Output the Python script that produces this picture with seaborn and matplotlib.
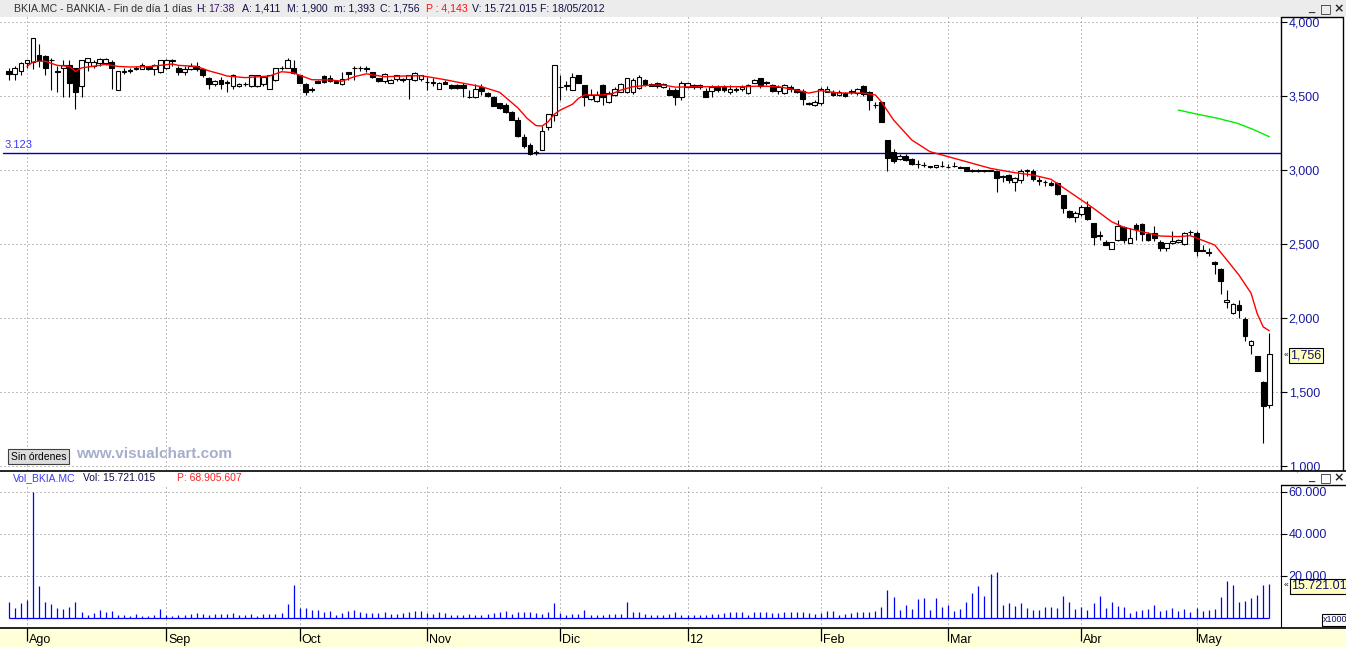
import numpy as np
import pandas as pd
import matplotlib
matplotlib.use('Agg')
import matplotlib.pyplot as plt
import seaborn as sns
from matplotlib.patches import Rectangle
from matplotlib.lines import Line2D

# daily candles BKIA.MC (27/07/2011 - 18/05/2012), one entry per session
opens = [3.67, 3.65, 3.67, 3.72, 3.73, 3.78, 3.77, 3.745, 3.67, 3.69,
         3.71, 3.69, 3.57, 3.73, 3.70, 3.72, 3.72, 3.73, 3.54, 3.665,
         3.67, 3.683, 3.685, 3.70, 3.685, 3.66, 3.69, 3.742, 3.69, 3.66,
         3.68, 3.70, 3.68, 3.62, 3.58, 3.61, 3.592, 3.57, 3.57, 3.582,
         3.57, 3.57, 3.58, 3.55, 3.61, 3.692, 3.69, 3.69, 3.64, 3.58,
         3.55, 3.60, 3.635, 3.62, 3.60, 3.58, 3.66, 3.692, 3.692, 3.688,
         3.66, 3.62, 3.60, 3.59, 3.615, 3.612, 3.615, 3.61, 3.615, 3.597,
         3.595, 3.55, 3.597, 3.574, 3.574, 3.574, 3.49, 3.49, 3.563, 3.518,
         3.49, 3.45, 3.44, 3.39, 3.34, 3.225, 3.17, 3.12, 3.137, 3.29,
         3.37, 3.562, 3.565, 3.54, 3.64, 3.574, 3.48, 3.467, 3.574, 3.46,
         3.507, 3.53, 3.53, 3.53, 3.556, 3.608, 3.58, 3.586, 3.56, 3.54,
         3.54, 3.495, 3.563, 3.574, 3.574, 3.536, 3.536, 3.56, 3.57, 3.53,
         3.55, 3.545, 3.52, 3.59, 3.62, 3.592, 3.574, 3.536, 3.52, 3.56,
         3.545, 3.536, 3.452, 3.44, 3.45, 3.53, 3.53, 3.507, 3.518, 3.532,
         3.52, 3.567, 3.53, 3.442, 3.46, 3.20, 3.124, 3.072, 3.095, 3.076,
         3.042, 3.036, 3.027, 3.018, 3.029, 3.022, 3.029, 3.02, 3.018, 3.0,
         3.0, 2.998, 2.997, 2.993, 2.957, 2.966, 2.92, 2.932, 2.993, 2.995,
         2.932, 2.922, 2.91, 2.915, 2.83, 2.72, 2.68, 2.70, 2.75, 2.644,
         2.558, 2.516, 2.464, 2.527, 2.617, 2.51, 2.63, 2.635, 2.567, 2.576,
         2.516, 2.47, 2.505, 2.516, 2.50, 2.582, 2.576, 2.457, 2.446, 2.376,
         2.33, 2.106, 2.036, 2.09, 1.99, 1.818, 1.74, 1.57, 1.411]
highs = [3.69, 3.70, 3.73, 3.745, 3.89, 3.85, 3.78, 3.76, 3.70, 3.74,
         3.74, 3.69, 3.74, 3.76, 3.74, 3.76, 3.755, 3.74, 3.67, 3.69,
         3.69, 3.70, 3.72, 3.705, 3.715, 3.745, 3.75, 3.75, 3.70, 3.70,
         3.72, 3.73, 3.69, 3.63, 3.61, 3.63, 3.61, 3.65, 3.59, 3.595,
         3.645, 3.645, 3.635, 3.645, 3.69, 3.70, 3.755, 3.74, 3.645, 3.585,
         3.56, 3.61, 3.64, 3.645, 3.605, 3.66, 3.665, 3.70, 3.705, 3.70,
         3.665, 3.625, 3.655, 3.615, 3.645, 3.625, 3.645, 3.665, 3.645, 3.63,
         3.62, 3.595, 3.61, 3.58, 3.58, 3.585, 3.54, 3.58, 3.58, 3.525,
         3.50, 3.455, 3.455, 3.40, 3.36, 3.24, 3.18, 3.135, 3.30, 3.38,
         3.71, 3.64, 3.60, 3.655, 3.645, 3.575, 3.545, 3.535, 3.58, 3.535,
         3.56, 3.59, 3.625, 3.62, 3.64, 3.615, 3.59, 3.595, 3.59, 3.56,
         3.555, 3.60, 3.59, 3.58, 3.58, 3.555, 3.575, 3.575, 3.575, 3.575,
         3.56, 3.575, 3.58, 3.615, 3.625, 3.60, 3.58, 3.575, 3.58, 3.575,
         3.55, 3.55, 3.46, 3.47, 3.56, 3.565, 3.54, 3.54, 3.53, 3.545,
         3.555, 3.575, 3.535, 3.46, 3.465, 3.20, 3.14, 3.105, 3.11, 3.08,
         3.065, 3.055, 3.03, 3.036, 3.06, 3.04, 3.055, 3.03, 3.022, 3.005,
         3.005, 3.0, 3.0, 2.995, 2.965, 2.97, 2.95, 3.01, 3.005, 3.005,
         2.95, 2.935, 2.925, 2.92, 2.83, 2.73, 2.72, 2.765, 2.79, 2.645,
         2.585, 2.53, 2.516, 2.66, 2.625, 2.605, 2.64, 2.64, 2.583, 2.62,
         2.53, 2.51, 2.59, 2.535, 2.58, 2.595, 2.585, 2.49, 2.47, 2.385,
         2.34, 2.186, 2.10, 2.12, 2.005, 1.85, 1.745, 1.575, 1.900]
lows = [3.61, 3.61, 3.64, 3.69, 3.685, 3.696, 3.64, 3.54, 3.53, 3.49,
        3.49, 3.41, 3.49, 3.67, 3.69, 3.70, 3.71, 3.55, 3.54, 3.65,
        3.655, 3.675, 3.68, 3.675, 3.645, 3.655, 3.685, 3.70, 3.64, 3.64,
        3.675, 3.67, 3.63, 3.55, 3.57, 3.55, 3.53, 3.55, 3.56, 3.565,
        3.56, 3.56, 3.57, 3.55, 3.60, 3.675, 3.69, 3.65, 3.585, 3.51,
        3.53, 3.585, 3.59, 3.595, 3.585, 3.575, 3.605, 3.605, 3.67, 3.665,
        3.625, 3.595, 3.59, 3.585, 3.60, 3.595, 3.48, 3.60, 3.60, 3.54,
        3.57, 3.545, 3.58, 3.55, 3.55, 3.49, 3.488, 3.488, 3.51, 3.495,
        3.43, 3.415, 3.385, 3.335, 3.22, 3.15, 3.10, 3.10, 3.137, 3.27,
        3.33, 3.47, 3.54, 3.54, 3.59, 3.435, 3.47, 3.46, 3.44, 3.455,
        3.50, 3.525, 3.52, 3.515, 3.55, 3.57, 3.565, 3.555, 3.555, 3.505,
        3.44, 3.475, 3.555, 3.55, 3.545, 3.49, 3.495, 3.53, 3.53, 3.515,
        3.53, 3.535, 3.515, 3.585, 3.555, 3.575, 3.53, 3.515, 3.515, 3.525,
        3.52, 3.44, 3.44, 3.435, 3.44, 3.525, 3.50, 3.50, 3.49, 3.515,
        3.51, 3.50, 3.405, 3.42, 3.326, 2.995, 3.05, 3.065, 3.06, 3.035,
        3.015, 3.02, 3.015, 3.015, 3.02, 3.015, 3.02, 3.012, 2.993, 2.985,
        2.985, 2.985, 2.99, 2.85, 2.92, 2.91, 2.86, 2.91, 2.96, 2.925,
        2.90, 2.89, 2.89, 2.83, 2.71, 2.675, 2.65, 2.69, 2.66, 2.49,
        2.53, 2.49, 2.464, 2.52, 2.51, 2.51, 2.53, 2.52, 2.52, 2.52,
        2.455, 2.455, 2.50, 2.51, 2.495, 2.56, 2.42, 2.45, 2.42, 2.30,
        2.16, 2.07, 2.03, 2.0, 1.845, 1.76, 1.64, 1.157, 1.393]
closes = [3.65, 3.69, 3.72, 3.74, 3.89, 3.74, 3.69, 3.74, 3.66, 3.71,
          3.59, 3.53, 3.74, 3.76, 3.73, 3.75, 3.75, 3.69, 3.67, 3.67,
          3.672, 3.687, 3.71, 3.68, 3.71, 3.74, 3.745, 3.738, 3.66, 3.68,
          3.70, 3.68, 3.64, 3.58, 3.60, 3.58, 3.588, 3.64, 3.58, 3.578,
          3.64, 3.64, 3.63, 3.64, 3.69, 3.688, 3.74, 3.655, 3.59, 3.53,
          3.54, 3.59, 3.595, 3.60, 3.59, 3.615, 3.65, 3.688, 3.688, 3.684,
          3.63, 3.60, 3.65, 3.61, 3.64, 3.608, 3.64, 3.655, 3.64, 3.593,
          3.585, 3.59, 3.583, 3.552, 3.552, 3.552, 3.495, 3.55, 3.536, 3.50,
          3.435, 3.42, 3.39, 3.34, 3.23, 3.16, 3.106, 3.115, 3.265, 3.38,
          3.71, 3.558, 3.575, 3.63, 3.59, 3.49, 3.51, 3.507, 3.495, 3.52,
          3.55, 3.58, 3.62, 3.61, 3.63, 3.58, 3.57, 3.57, 3.58, 3.51,
          3.49, 3.586, 3.586, 3.563, 3.56, 3.495, 3.56, 3.54, 3.54, 3.55,
          3.54, 3.563, 3.574, 3.608, 3.567, 3.588, 3.536, 3.56, 3.574, 3.545,
          3.53, 3.478, 3.448, 3.46, 3.55, 3.55, 3.507, 3.53, 3.50, 3.528,
          3.545, 3.513, 3.473, 3.438, 3.326, 3.083, 3.063, 3.095, 3.068, 3.04,
          3.038, 3.032, 3.018, 3.034, 3.025, 3.018, 3.025, 3.016, 2.995, 2.99,
          2.99, 2.99, 2.993, 2.944, 2.953, 2.93, 2.944, 2.995, 2.997, 2.937,
          2.928, 2.918, 2.90, 2.84, 2.74, 2.685, 2.71, 2.75, 2.667, 2.55,
          2.554, 2.495, 2.516, 2.62, 2.53, 2.54, 2.60, 2.57, 2.53, 2.54,
          2.47, 2.51, 2.52, 2.53, 2.576, 2.578, 2.45, 2.453, 2.442, 2.363,
          2.25, 2.12, 2.093, 2.054, 1.878, 1.847, 1.642, 1.407, 1.756]

# volume in thousands of shares
volumes = [7.4, 4.6, 6.8, 8.2, 59.7, 15.0, 7.3, 6.3, 4.4, 4.1,
           5.1, 7.3, 2.5, 1.1, 2.1, 3.5, 2.7, 3.0, 1.4, 1.1,
           0.8, 1.6, 0.6, 0.8, 1.3, 4.1, 1.3, 0.9, 1.3, 1.4,
           1.6, 2.1, 1.6, 1.3, 1.6, 1.6, 1.6, 2.1, 1.3, 1.3,
           1.6, 0.9, 1.6, 1.6, 1.6, 2.1, 6.3, 15.3, 4.4, 4.4,
           3.5, 3.5, 2.7, 3.0, 1.4, 2.1, 3.0, 3.5, 2.5, 2.1,
           2.1, 2.1, 2.5, 1.6, 1.6, 2.1, 2.4, 3.3, 2.9, 2.1,
           1.7, 2.4, 2.1, 1.3, 1.0, 1.3, 1.7, 1.3, 1.0, 1.6,
           2.1, 2.5, 3.3, 1.6, 2.5, 2.4, 2.4, 2.1, 1.6, 2.4,
           6.8, 2.1, 1.3, 1.6, 1.6, 3.7, 1.0, 1.3, 1.3, 1.7,
           1.7, 1.7, 7.6, 2.5, 2.4, 1.6, 1.0, 1.0, 1.0, 1.6,
           2.4, 1.3, 1.0, 1.0, 1.3, 1.3, 1.6, 1.6, 2.1, 2.4,
           2.4, 2.4, 1.3, 2.4, 2.4, 2.4, 2.1, 2.1, 2.5, 2.5,
           2.4, 2.5, 2.1, 1.6, 2.1, 2.9, 3.3, 1.0, 1.7, 2.1,
           2.4, 2.5, 2.5, 3.2, 5.2, 12.9, 10.0, 3.7, 6.0, 4.0,
           8.9, 9.2, 3.7, 9.2, 5.2, 6.0, 3.3, 4.0, 7.6, 11.9,
           14.8, 10.3, 20.8, 21.9, 6.0, 6.8, 5.6, 7.1, 4.4, 3.7,
           3.7, 5.2, 4.8, 4.4, 10.3, 7.6, 4.0, 4.9, 3.7, 6.8,
           10.3, 4.4, 7.3, 5.6, 4.9, 2.1, 3.3, 3.7, 4.0, 5.8,
           3.0, 3.5, 4.4, 3.0, 3.9, 2.5, 4.3, 3.0, 3.5, 3.9,
           9.8, 17.2, 15.3, 7.4, 7.7, 9.2, 10.6, 15.3, 15.721]

# red moving average (session index, price)
ma_idx = [3, 4, 5, 6, 8, 10, 11, 12, 15, 16, 18, 20, 23, 25, 27, 28, 31, 33, 35,
          36, 39, 43, 45, 47, 48, 50, 53, 55, 57, 59, 62, 65, 68, 70, 72, 75, 78,
          81, 82, 84, 85.5, 87, 88, 89, 90, 91, 93, 94, 95, 98, 99.5, 101, 103,
          106, 108, 110, 114, 117, 121, 124, 127, 130, 132, 134, 137, 139, 141,
          143, 144, 146, 149, 152, 156, 159, 162, 166, 169, 172, 175, 177, 179,
          182, 184, 187, 190, 193, 195, 199, 201, 203, 205, 206, 207, 208]
ma_val = [3.70, 3.73, 3.735, 3.735, 3.707, 3.70, 3.665, 3.69, 3.707, 3.714,
          3.70, 3.696, 3.698, 3.707, 3.716, 3.707, 3.70, 3.67, 3.648, 3.635,
          3.624, 3.635, 3.664, 3.657, 3.64, 3.61, 3.608, 3.60, 3.63, 3.65,
          3.63, 3.635, 3.637, 3.624, 3.61, 3.586, 3.563, 3.525, 3.49, 3.42,
          3.35, 3.30, 3.297, 3.326, 3.376, 3.405, 3.444, 3.484, 3.507, 3.507,
          3.514, 3.54, 3.563, 3.574, 3.574, 3.56, 3.563, 3.563, 3.563, 3.567,
          3.563, 3.54, 3.52, 3.536, 3.52, 3.52, 3.52, 3.507, 3.46, 3.338,
          3.203, 3.124, 3.079, 3.045, 3.011, 2.982, 2.966, 2.937, 2.853, 2.797,
          2.741, 2.65, 2.613, 2.583, 2.554, 2.55, 2.556, 2.493, 2.392, 2.29,
          2.167, 2.03, 1.94, 1.914]

# green line (right side)
green_idx = [193, 196, 199.4, 202.7, 205.3, 208]
green_val = [3.405, 3.378, 3.35, 3.316, 3.275, 3.225]

level_line = 3.115
level_label = '3.123'

month_idx = [3, 26, 48, 69, 91, 112, 134, 155, 177, 196]
month_labels = ['Ago', 'Sep', 'Oct', 'Nov', 'Dic', '12', 'Feb', 'Mar', 'Abr', 'May']
price_ticks = [1.0, 1.5, 2.0, 2.5, 3.0, 3.5, 4.0]
price_tick_labels = ['1,000', '1,500', '2,000', '2,500', '3,000', '3,500', '4,000']
vol_ticks = [20, 40, 60]
vol_tick_labels = ['20.000', '40.000', '60.000']

header_parts = [(14, 'BKIA.MC - BANKIA - Fin de día 1 días', '#303030'),
                (196, 'H:', '#101048'), (208, '17:38', '#3a1870'),
                (242, 'A: 1,411', '#101048'), (287, 'M: 1,900', '#101048'),
                (334, 'm: 1,393', '#101048'), (380, 'C: 1,756', '#101048'),
                (426, 'P : 4,143', '#ff1010'), (472, 'V: 15.721.015', '#101048'),
                (540, 'F: 18/05/2012', '#101048')]

sns.set_style('white')
plt.rcParams['font.family'] = ['Liberation Sans', 'DejaVu Sans']

W, H = 1346, 647
fig = plt.figure(figsize=(W / 100, H / 100), dpi=100)
fig.patch.set_facecolor('white')


def box(x0, y0, x1, y1):
    return [x0 / W, 1 - y1 / H, (x1 - x0) / W, (y1 - y0) / H]


def fx(x):
    return x / W


def fy(y):
    return 1 - y / H


# pixel geometry: session i sits at x = 8.8 + 6.06 * i
x0_idx = -8.8 / 6.06
def idx_at(px):
    return (px - 8.8) / 6.06


grid_kw = dict(color='#808080', linestyle=(0, (1, 3)), linewidth=0.72)
label_color = '#1a1aa0'

# ---- price pane
ax_p = fig.add_axes(box(0, 17, 1281, 470))
ax_p.set_xlim(x0_idx, idx_at(1281))
ax_p.set_ylim(4 - (470 - 22) / 148, 4 - (17 - 22) / 148)
for v in price_ticks:
    ax_p.axhline(v, zorder=0, **grid_kw)
for m in month_idx:
    ax_p.axvline(m, zorder=0, **grid_kw)
ax_p.axhline(level_line, xmin=3 / 1281, color='#0000c0', lw=1.0, zorder=1)

x = np.arange(len(closes))
o = np.array(opens)
c = np.array(closes)
ax_p.vlines(x, lows, highs, color='black', lw=0.8, zorder=2)
body_lo = np.minimum(o, c)
body_h = np.maximum(np.abs(c - o), 0.004)
ax_p.bar(x, body_h, bottom=body_lo, width=0.78,
         color=np.where(c >= o, 'white', 'black'),
         edgecolor='black', linewidth=0.8, zorder=3)

ma = pd.DataFrame({'idx': ma_idx, 'val': ma_val})
sns.lineplot(data=ma, x='idx', y='val', ax=ax_p, color='#ff0000', lw=1.0,
             estimator=None, sort=False, zorder=4)
gr = pd.DataFrame({'idx': green_idx, 'val': green_val})
sns.lineplot(data=gr, x='idx', y='val', ax=ax_p, color='#00ee00', lw=1.0,
             estimator=None, sort=False, zorder=4)

ax_p.set_xlabel('')
ax_p.set_ylabel('')
ax_p.yaxis.tick_right()
ax_p.set_yticks(price_ticks)
ax_p.set_yticklabels(price_tick_labels)
ax_p.tick_params(axis='y', direction='out', length=4, width=0.8, color='black',
                 labelcolor=label_color, labelsize=9, pad=1.5)
ax_p.set_xticks([])
for s in ['left', 'top', 'bottom']:
    ax_p.spines[s].set_visible(False)
ax_p.spines['right'].set_color('black')
ax_p.spines['right'].set_linewidth(1.0)

# ---- volume pane
base_y = 617.5
ax_v = fig.add_axes(box(0, 485, 1281, 628))
ax_v.set_xlim(x0_idx, idx_at(1281))
ax_v.set_ylim((base_y - 628) / 2.1, (base_y - 485) / 2.1)
for v in vol_ticks:
    ax_v.axhline(v, zorder=0, **grid_kw)
for m in month_idx:
    ax_v.axvline(m, zorder=0, **grid_kw)
ax_v.vlines(x, 0, volumes, color='#0000ff', lw=0.9, zorder=2)
ax_v.hlines(0, x[0], x[-1], color='#0000ff', lw=0.9, zorder=2)
ax_v.yaxis.tick_right()
ax_v.set_yticks(vol_ticks)
ax_v.set_yticklabels(vol_tick_labels)
ax_v.tick_params(axis='y', direction='out', length=4, width=0.8, color='black',
                 labelcolor=label_color, labelsize=9, pad=1.5)
ax_v.set_xticks([])
for s in ['left', 'top', 'bottom']:
    ax_v.spines[s].set_visible(False)
ax_v.spines['right'].set_color('black')

# ---- date axis
ax_d = fig.add_axes(box(0, 628, 1346, 647))
ax_d.set_facecolor('#ffffd8')
ax_d.set_xlim(x0_idx, idx_at(1346))
ax_d.set_ylim(0, 1)
ax_d.vlines(month_idx, 0.32, 1, color='black', lw=0.9)
for m, lab in zip(month_idx, month_labels):
    ax_d.text(m + 0.3, 0.04, lab, fontsize=9, color='black', va='bottom', ha='left')
ax_d.set_xticks([])
ax_d.set_yticks([])
for s in ['left', 'right', 'bottom']:
    ax_d.spines[s].set_visible(False)
ax_d.spines['top'].set_color('black')
ax_d.spines['top'].set_linewidth(1.2)

# ---- frame / chrome
fig.patches.append(Rectangle((0, fy(17)), 1, 17 / H, transform=fig.transFigure,
                             facecolor='#ececec', edgecolor='none', zorder=0))


def fline(xs, ys, lw=1.0, color='black'):
    fig.lines.append(Line2D([fx(v) for v in xs], [fy(v) for v in ys],
                            transform=fig.transFigure, color=color, lw=lw))


fline([0, 1346], [470.5, 470.5], lw=1.2)
fline([1281, 1343], [17, 17])
fline([1343, 1343], [17, 470])
fline([1281, 1346], [485, 485])

for bx, by in [(1308, 9), (1308, 478)]:
    fig.text(fx(bx), fy(by), '_', fontsize=8, fontweight='bold', va='center', ha='left')
    fig.text(fx(bx + 12), fy(by), '□', fontsize=9, va='center', ha='left',
             family=['DejaVu Sans'])
    fig.text(fx(bx + 25), fy(by), '×', fontsize=9, fontweight='bold', va='center', ha='left',
             family=['DejaVu Sans'])

for px, txt, col in header_parts:
    fig.text(fx(px), fy(8.5), txt, fontsize=7.6, color=col, va='center', ha='left')

# level label above the blue line
fig.text(fx(5), fy(145), level_label, fontsize=8, color='#3a3aff', va='center', ha='left')

fig.text(fx(13), fy(478), 'Vol_BKIA.MC', fontsize=7.5, color='#3c3cf0', va='center')
fig.text(fx(83), fy(478), 'Vol: 15.721.015', fontsize=7.5, color='#101048', va='center')
fig.text(fx(177), fy(478), 'P: 68.905.607', fontsize=7.5, color='#ff2020', va='center')

# price / volume tags
fig.text(fx(1284), fy(355), '«', fontsize=6, color='black', va='center')
fig.text(fx(1290), fy(355), '1,756', fontsize=9, color='#10106a', va='center',
         bbox=dict(boxstyle='square,pad=0.12', facecolor='#ffffc0', edgecolor='black', lw=0.8))
fig.text(fx(1284), fy(586), '«', fontsize=6, color='black', va='center')
fig.text(fx(1291), fy(586), '15.721.01', fontsize=9, color='#10106a', va='center',
         bbox=dict(boxstyle='square,pad=0.12', facecolor='#ffffc0', edgecolor='black', lw=0.8))
fig.text(fx(1323), fy(620), 'x1000', fontsize=6.5, color='#10106a', va='center',
         bbox=dict(boxstyle='square,pad=0.15', facecolor='white', edgecolor='black', lw=0.8))

# watermark and button
fig.text(fx(11), fy(456.5), 'Sin órdenes', fontsize=7.5, color='black', va='center',
         bbox=dict(boxstyle='square,pad=0.25', facecolor='#dcdcdc', edgecolor='#404040', lw=0.8))
fig.text(fx(76), fy(454), 'www.visualchart.com', fontsize=11, fontweight='bold',
         color='#a7aecb', va='center')

fig.savefig('out.png', dpi=100)
